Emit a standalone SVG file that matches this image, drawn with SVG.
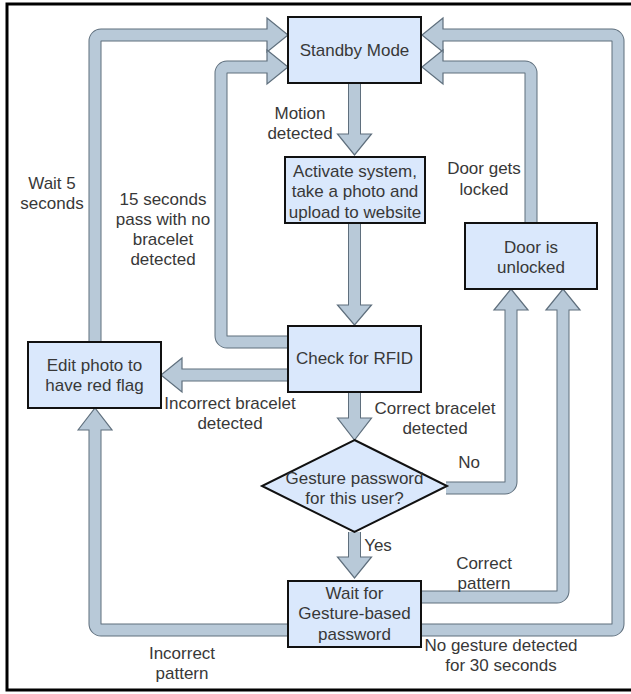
<svg xmlns="http://www.w3.org/2000/svg" width="631" height="694" viewBox="0 0 631 694">
<style>
.so{fill:none;stroke:#5f6f7d;stroke-width:13;stroke-linejoin:round}
.si{fill:none;stroke:#b8c9d8;stroke-width:11;stroke-linejoin:round}
.hd{fill:#b8c9d8;stroke:#5f6f7d;stroke-width:1.2;stroke-linejoin:miter}
.box{fill:#dae8fc;stroke:#111;stroke-width:2}
text{font-family:"Liberation Sans",Arial,sans-serif;font-size:17px;fill:#383838;text-anchor:middle}
</style>
<rect width="631" height="694" fill="#fff"/>
<path d="M631,4 H7 V690 H631" fill="none" stroke="#000" stroke-width="3"/>
<g id="connectors">
  <g id="c-edit-standby">
    <path class="so" d="M95,342 V41 A6,6 0 0 1 101,35 H269"/>
    <polygon class="hd" points="267,18 288,35 267,52"/>
    <path class="si" d="M95,342 V41 A6,6 0 0 1 101,35 H269"/>
  </g>
  <g id="c-check-standby">
    <path class="so" d="M288,342 H227 A6,6 0 0 1 221,336 V73 A6,6 0 0 1 227,67 H269"/>
    <polygon class="hd" points="267,50 288,67 267,84"/>
    <path class="si" d="M288,342 H227 A6,6 0 0 1 221,336 V73 A6,6 0 0 1 227,67 H269"/>
  </g>
  <g id="c-standby-activate">
    <path class="so" d="M354.5,83 V136"/>
    <polygon class="hd" points="337.5,134 371.5,134 354.5,155"/>
    <path class="si" d="M354.5,83 V136"/>
  </g>
  <g id="c-activate-check">
    <path class="so" d="M354.5,223 V307"/>
    <polygon class="hd" points="337.5,305 371.5,305 354.5,325"/>
    <path class="si" d="M354.5,223 V307"/>
  </g>
  <g id="c-check-gesture">
    <path class="so" d="M354.5,392 V420"/>
    <polygon class="hd" points="337.5,418 371.5,418 354.5,440"/>
    <path class="si" d="M354.5,392 V420"/>
  </g>
  <g id="c-gesture-wait">
    <path class="so" d="M354.5,532 V559"/>
    <polygon class="hd" points="337.5,557 371.5,557 354.5,578"/>
    <path class="si" d="M354.5,532 V559"/>
  </g>
  <g id="c-check-edit">
    <path class="so" d="M288,375 H180"/>
    <polygon class="hd" points="182,358 161,375 182,392"/>
    <path class="si" d="M288,375 H180"/>
  </g>
  <g id="c-wait-edit">
    <path class="so" d="M288,630 H101 A6,6 0 0 1 95,624 V428"/>
    <polygon class="hd" points="78,430 95,408 112,430"/>
    <path class="si" d="M288,630 H101 A6,6 0 0 1 95,624 V428"/>
  </g>
  <g id="c-wait-standby">
    <path class="so" d="M421,630 H612 A6,6 0 0 0 618,624 V41 A6,6 0 0 0 612,35 H441"/>
    <polygon class="hd" points="443,18 422,35 443,52"/>
    <path class="si" d="M421,630 H612 A6,6 0 0 0 618,624 V41 A6,6 0 0 0 612,35 H441"/>
  </g>
  <g id="c-wait-door">
    <path class="so" d="M421,597 H557 A6,6 0 0 0 563,591 V308"/>
    <polygon class="hd" points="546,310 563,289 580,310"/>
    <path class="si" d="M421,597 H557 A6,6 0 0 0 563,591 V308"/>
  </g>
  <g id="c-gesture-door">
    <path class="so" d="M446,488 H505 A6,6 0 0 0 511,482 V308"/>
    <polygon class="hd" points="494,310 511,289 528,310"/>
    <path class="si" d="M446,488 H505 A6,6 0 0 0 511,482 V308"/>
  </g>
  <g id="c-door-standby">
    <path class="so" d="M531,223 V73 A6,6 0 0 0 525,67 H441"/>
    <polygon class="hd" points="443,50 422,67 443,84"/>
    <path class="si" d="M531,223 V73 A6,6 0 0 0 525,67 H441"/>
  </g>
  <g id="edge-labels">
    <text x="300" y="119">Motion</text>
    <text x="300" y="139">detected</text>
    <text x="52" y="189">Wait 5</text>
    <text x="52" y="209">seconds</text>
    <text x="163" y="205">15 seconds</text>
    <text x="163" y="225">pass with no</text>
    <text x="163" y="245">bracelet</text>
    <text x="163" y="265">detected</text>
    <text x="484" y="174">Door gets</text>
    <text x="484" y="195">locked</text>
    <text x="230" y="409">Incorrect bracelet</text>
    <text x="230" y="429">detected</text>
    <text x="435" y="414">Correct bracelet</text>
    <text x="435" y="434">detected</text>
    <text x="469" y="468">No</text>
    <text x="378" y="551">Yes</text>
    <text x="484" y="569">Correct</text>
    <text x="484" y="589">pattern</text>
    <text x="501" y="651">No gesture detected</text>
    <text x="501" y="671">for 30 seconds</text>
    <text x="182" y="659">Incorrect</text>
    <text x="182" y="679">pattern</text>
  </g>
</g>
<g id="standby">
  <rect class="box" x="288" y="17" width="133" height="66"/>
  <text x="354.5" y="56">Standby Mode</text>
</g>
<g id="activate">
  <rect class="box" x="285" y="157" width="140" height="66"/>
  <text x="355" y="177">Activate system,</text>
  <text x="355" y="197">take a photo and</text>
  <text x="355" y="218">upload to website</text>
</g>
<g id="check">
  <rect class="box" x="288" y="326" width="133" height="66"/>
  <text x="354.5" y="364">Check for RFID</text>
</g>
<g id="edit">
  <rect class="box" x="28" y="342" width="133" height="66"/>
  <text x="94.5" y="371">Edit photo to</text>
  <text x="94.5" y="391">have red flag</text>
</g>
<g id="door">
  <rect class="box" x="465" y="223" width="132" height="66"/>
  <text x="531" y="253">Door is</text>
  <text x="531" y="273">unlocked</text>
</g>
<g id="gesture">
  <polygon class="box" points="354.5,440 447,486 354.5,532 262,486"/>
  <text x="354.5" y="484">Gesture password</text>
  <text x="354.5" y="504">for this user?</text>
</g>
<g id="wait">
  <rect class="box" x="288" y="581" width="133" height="66"/>
  <text x="354.5" y="599">Wait for</text>
  <text x="354.5" y="619">Gesture-based</text>
  <text x="354.5" y="640">password</text>
</g>
</svg>
